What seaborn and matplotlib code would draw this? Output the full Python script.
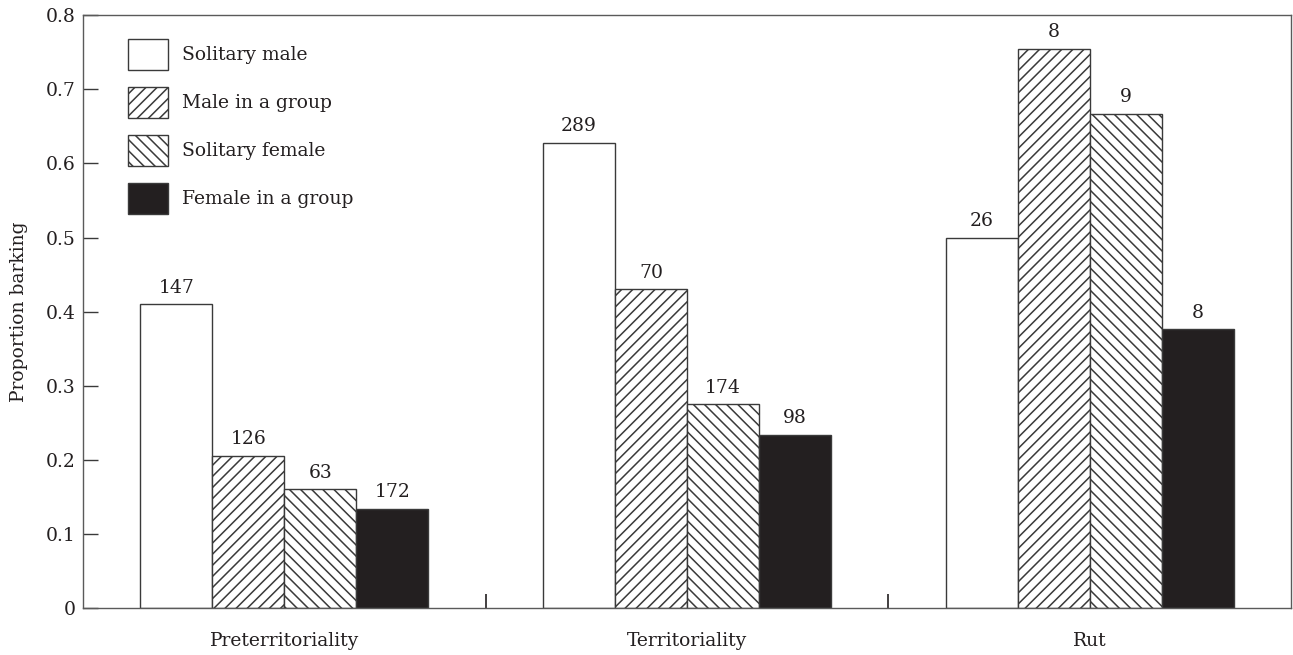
import matplotlib
matplotlib.use("Agg")
import matplotlib.pyplot as plt
from matplotlib.patches import Patch
from matplotlib.ticker import FuncFormatter, FixedLocator
import seaborn as sns
import pandas as pd

# Stages of the season and social categories
stages = ["Preterritoriality", "Territoriality", "Rut"]
groups = ["Solitary male", "Male in a group", "Solitary female", "Female in a group"]

# Proportion of individuals barking, per group, in stage order
solitary_male = [0.410, 0.628, 0.500]
male_in_group = [0.205, 0.430, 0.755]
solitary_female = [0.160, 0.275, 0.667]
female_in_group = [0.134, 0.234, 0.376]

# Sample sizes printed above the bars
n_solitary_male = [147, 289, 26]
n_male_in_group = [126, 70, 8]
n_solitary_female = [63, 174, 9]
n_female_in_group = [172, 98, 8]

values = [solitary_male, male_in_group, solitary_female, female_in_group]
counts = [n_solitary_male, n_male_in_group, n_solitary_female, n_female_in_group]

rows = []
for g, vals in zip(groups, values):
    for s, v in zip(stages, vals):
        rows.append({"stage": s, "group": g, "prop": v})
df = pd.DataFrame(rows)

ink = "#231f20"
edge = "#3a3a3a"
fills = ["white", "white", "white", ink]
hatches = ["", "///", "\\\\\\", ""]
FS = 13.5

sns.set_style("ticks")
plt.rcParams["font.family"] = ["DejaVu Serif", "Liberation Serif"]
plt.rcParams["hatch.linewidth"] = 1.1
plt.rcParams["hatch.color"] = ink
plt.rcParams["text.color"] = ink

fig = plt.figure(figsize=(12.93, 6.55), dpi=100)
ax = fig.add_axes([0.0642, 0.0718, 0.9343, 0.9048])

sns.barplot(data=df, x="stage", y="prop", hue="group", order=stages,
            hue_order=groups, palette=fills, width=0.715, gap=0,
            edgecolor=edge, linewidth=1.0, saturation=1, legend=False, ax=ax)

for cont, h, fc, ns in zip(ax.containers, hatches, fills, counts):
    for bar in cont:
        bar.set_hatch(h)
        bar.set_facecolor(fc)
        bar.set_edgecolor(edge)
    ax.bar_label(cont, labels=[str(n) for n in ns], padding=5.5,
                 fontsize=FS, color=ink)

ax.set_xlim(-0.5, 2.5)
ax.set_ylim(0, 0.8)
ax.set_yticks([i / 10 for i in range(9)])
ax.yaxis.set_major_formatter(FuncFormatter(lambda v, p: "0" if v == 0 else f"{v:.1f}"))
ax.tick_params(axis="y", direction="in", length=11, width=1.0, color=edge,
               labelsize=FS, labelcolor=ink, pad=5.5)
ax.tick_params(axis="x", which="major", length=0, labelsize=FS,
               labelcolor=ink, pad=17.5)
ax.xaxis.set_minor_locator(FixedLocator([0.5, 1.5]))
ax.tick_params(axis="x", which="minor", direction="in", length=10,
               width=1.2, color=ink)
ax.set_xlabel("")
ax.set_ylabel("Proportion barking", fontsize=FS, color=ink, labelpad=12.5)

for sp in ax.spines.values():
    sp.set_visible(True)
    sp.set_color("#5a5a5a")
    sp.set_linewidth(1.0)

handles = [Patch(facecolor=fc, edgecolor=edge, hatch=h, linewidth=1.0)
           for fc, h in zip(fills, hatches)]
ax.legend(handles, groups, loc="upper left", bbox_to_anchor=(0.037, 0.960),
          frameon=False, fontsize=FS, handlelength=2.13, handleheight=2.17,
          labelspacing=0.9, handletextpad=0.75, borderpad=0, borderaxespad=0)

fig.savefig("out.png", dpi=100)
